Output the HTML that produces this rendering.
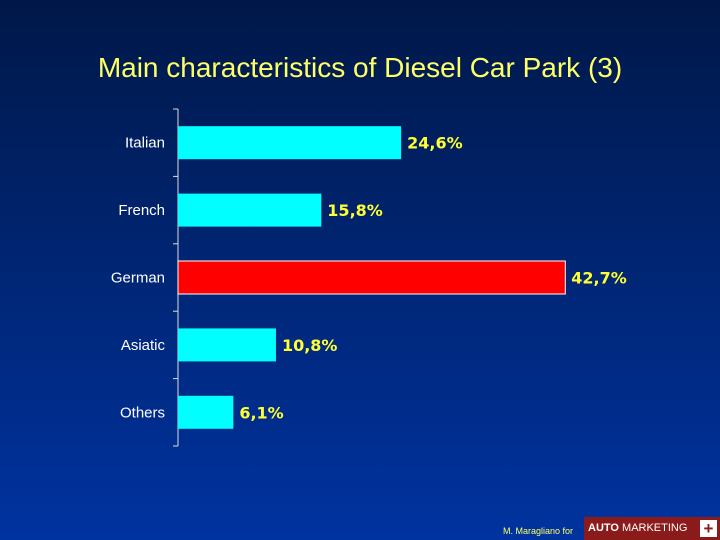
<!DOCTYPE html>
<html><head><meta charset="utf-8"><style>
html,body{margin:0;padding:0}
body{width:720px;height:540px;overflow:hidden;background:linear-gradient(#001848 0%,#002470 45%,#0033a0 100%);font-family:"Liberation Sans",sans-serif;position:relative}
#title{position:absolute;left:0;width:720px;top:52px;text-align:center;font-size:28px;color:#ffff66}
</style></head><body>
<div id="title">Main characteristics of Diesel Car Park (3)</div>
<svg id="chart" width="720" height="540" style="position:absolute;left:0;top:0"></svg>
<div style="position:absolute;left:503px;top:526px;font-size:9px;color:#ffff66">M. Maragliano for</div>
<div style="position:absolute;left:584px;top:517px;width:136px;height:23px;background:#8b1a1a;color:#fff;font-size:11px;line-height:23px;white-space:nowrap"><b style="margin-left:4px">AUTO</b> MARKETING<span style="position:absolute;right:3px;top:3px;width:17px;height:17px;background:#fff;color:#8b1a1a;font-weight:bold;font-size:17px;line-height:17px;text-align:center">+</span></div>
<script>
const categories=["Italian","French","German","Asiatic","Others"];
const values=[24.6,15.8,42.7,10.8,6.1];
const labels=["24,6%","15,8%","42,7%","10,8%","6,1%"];
const highlight=[false,false,true,false,false];
const svg=document.getElementById('chart');
const NS='http://www.w3.org/2000/svg';
const x0=178,pxPer=9.07,yTop=109,band=67.4,barH=33;
const xs=v=>x0+v*pxPer;
const yc=i=>yTop+band*(i+0.5);
function mk(t,a){const e=document.createElementNS(NS,t);for(const k in a)e.setAttribute(k,a[k]);svg.appendChild(e);return e;}
const ax=mk('line',{x1:x0,x2:x0,y1:yTop,y2:yTop+band*categories.length,stroke:'#ddd','stroke-width':1});


for(let i=0;i<=categories.length;i++){
  const t=mk('line',{x1:x0-5,x2:x0,y1:yTop+band*i,y2:yTop+band*i,stroke:'#ddd','stroke-width':1});
  
  
}
categories.forEach((c,i)=>{
  const y=yc(i);
  const r=mk('rect',{x:x0,y:y-barH/2,width:xs(values[i])-x0,height:barH,fill:highlight[i]?'#ff0000':'#00ffff',stroke:highlight[i]?'#fff':'none','stroke-width':1});
  
  
  const l=mk('text',{x:165,y:y+5,'text-anchor':'end',fill:'#fff','font-size':15,'font-family':'Liberation Sans, sans-serif'});
  l.textContent=c;
  
  
  const v=mk('text',{x:xs(values[i])+6,y:y+6,fill:'#ffff33','font-size':16,'font-weight':'bold','font-family':'DejaVu Sans, sans-serif'});
  v.textContent=labels[i];
  
  
});
</script>
</body></html>
